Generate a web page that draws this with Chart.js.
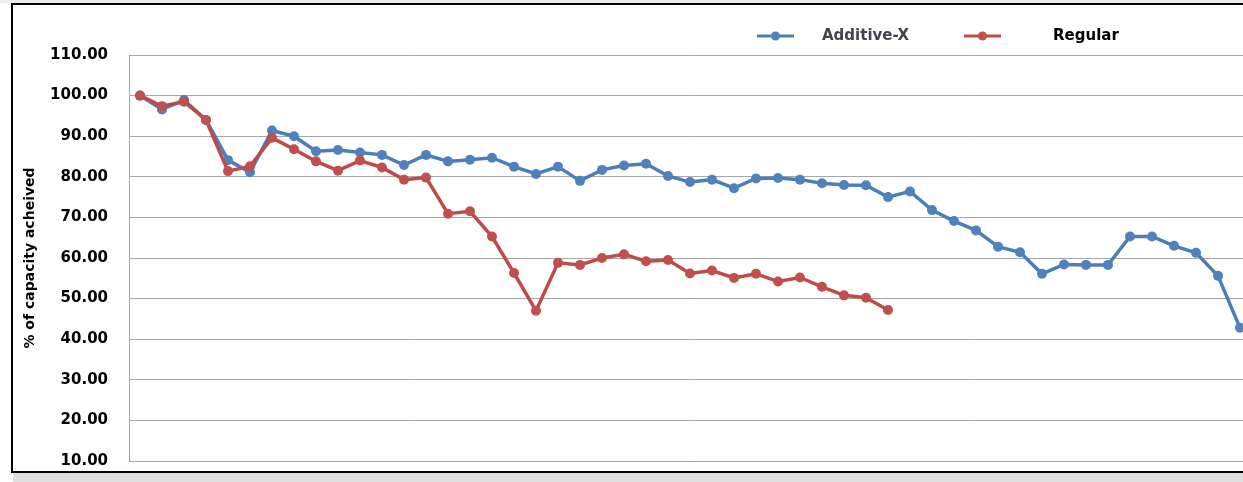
<!DOCTYPE html>
<html>
<head>
<meta charset="utf-8">
<script src="https://cdn.jsdelivr.net/npm/chart.js@4.4.1/dist/chart.umd.min.js"></script>
<style>
  html, body { margin: 0; padding: 0; width: 1243px; height: 482px; overflow: hidden; background: #fff; }
  #topband { position: absolute; left: 0; top: 0; width: 1243px; height: 3px; background: #ececec; }
  #bottomband { position: absolute; left: 13px; top: 473px; width: 1240px; height: 9px; background: #dfdfdf; }
  #frame { position: absolute; left: 11px; top: 3px; width: 1260px; height: 466px; overflow: hidden;
           border: 2px solid #000; border-right: none; background: #fff; }
  #frame canvas { display: block; }
</style>
</head>
<body>
<div id="topband"></div>
<div id="frame"><canvas id="capacityChart" width="1260" height="486"></canvas></div>
<div id="bottomband"></div>
<script>
// Cycle numbers along the horizontal axis (not labelled on the chart)
const cycles = Array.from({ length: 51 }, (_, i) => String(i + 1));

// % of capacity achieved per cycle
const additiveX = [100.0, 96.6, 98.9, 94.0, 84.1, 81.1, 91.4, 90.0, 86.3, 86.6,
                   86.0, 85.4, 82.9, 85.4, 83.8, 84.2, 84.7, 82.5, 80.7, 82.5,
                   79.0, 81.7, 82.8, 83.2, 80.2, 78.7, 79.3, 77.2, 79.6, 79.7,
                   79.3, 78.4, 78.0, 77.9, 75.0, 76.4, 71.8, 69.1, 66.8, 62.8,
                   61.4, 56.1, 58.4, 58.3, 58.3, 65.3, 65.3, 63.0, 61.3, 55.6,
                   42.8];
const regular = [100.0, 97.4, 98.5, 94.0, 81.4, 82.6, 89.6, 86.8, 83.8, 81.5,
                 84.0, 82.3, 79.3, 79.8, 70.9, 71.5, 65.3, 56.3, 47.0, 58.8,
                 58.3, 60.0, 60.9, 59.2, 59.5, 56.2, 56.9, 55.1, 56.1, 54.2,
                 55.2, 52.9, 50.8, 50.2, 47.2];

// Y axis range and tick spacing
const yMin = 10, yMax = 110, yStep = 10;

const seriesNames = ['Additive-X', 'Regular'];
const lineColors = ['#4a7ebb', '#be4b48'];
const markerColors = ['#4f81bd', '#c0504d'];

const FONT = 'DejaVu Sans';

// Key drawn at the top of the chart: a short line with a dot, then the name
const seriesKey = {
  id: 'seriesKey',
  afterDraw(chart, args, opts) {
    const ctx = chart.ctx;
    ctx.save();
    ctx.font = 'bold 15px "' + FONT + '"';
    ctx.textBaseline = 'middle';
    ctx.textAlign = 'left';
    chart.data.datasets.forEach((ds, i) => {
      const e = opts.entries[i];
      ctx.strokeStyle = ds.borderColor;
      ctx.lineWidth = 3;
      ctx.beginPath();
      ctx.moveTo(e.lineX, opts.y);
      ctx.lineTo(e.lineX + opts.lineLength, opts.y);
      ctx.stroke();
      ctx.fillStyle = ds.pointBackgroundColor;
      ctx.beginPath();
      ctx.arc(e.lineX + opts.lineLength / 2, opts.y, 4.5, 0, Math.PI * 2);
      ctx.fill();
      ctx.fillStyle = e.textColor;
      ctx.fillText(ds.label, e.textX, opts.y);
    });
    ctx.restore();
  }
};

// Regular (order 0) is painted above Additive-X (order 1)
const makeSeries = (i, values, order) => ({
  label: seriesNames[i],
  data: values,
  order: order,
  borderColor: lineColors[i],
  backgroundColor: markerColors[i],
  pointBackgroundColor: markerColors[i],
  pointBorderColor: markerColors[i],
  pointRadius: 5,
  pointBorderWidth: 0,
  borderWidth: 3.5,
  tension: 0,
  fill: false
});

new Chart(document.getElementById('capacityChart'), {
  type: 'line',
  data: {
    labels: cycles,
    datasets: [makeSeries(0, additiveX, 1), makeSeries(1, regular, 0)]
  },
  options: {
    responsive: false,
    animation: false,
    devicePixelRatio: 1,
    layout: { padding: { left: 0, right: 22, top: 50, bottom: 11.5 } },
    plugins: {
      legend: { display: false },
      tooltip: { enabled: false },
      seriesKey: {
        y: 31,
        lineLength: 37,
        entries: [
          { lineX: 744, textX: 809, textColor: '#47414d' },
          { lineX: 951, textX: 1040, textColor: '#000000' }
        ]
      }
    },
    scales: {
      x: {
        type: 'category',
        offset: true,
        display: false,
        grid: { display: false }
      },
      y: {
        min: yMin,
        max: yMax,
        afterFit: (s) => { s.width = 116; },
        ticks: {
          stepSize: yStep,
          padding: 21,
          color: '#000',
          font: { family: FONT, size: 15, weight: 'bold' },
          callback: (v) => Number(v).toFixed(2)
        },
        grid: { color: '#a6a6a6', lineWidth: 1, drawTicks: false },
        border: { display: true, color: '#a6a6a6', width: 1 },
        title: {
          display: true,
          text: '% of capacity acheived',
          color: '#000',
          font: { family: FONT, size: 14, weight: 'bold' },
          padding: { top: 9, bottom: 0 }
        }
      }
    }
  },
  plugins: [seriesKey]
});
</script>
</body>
</html>
